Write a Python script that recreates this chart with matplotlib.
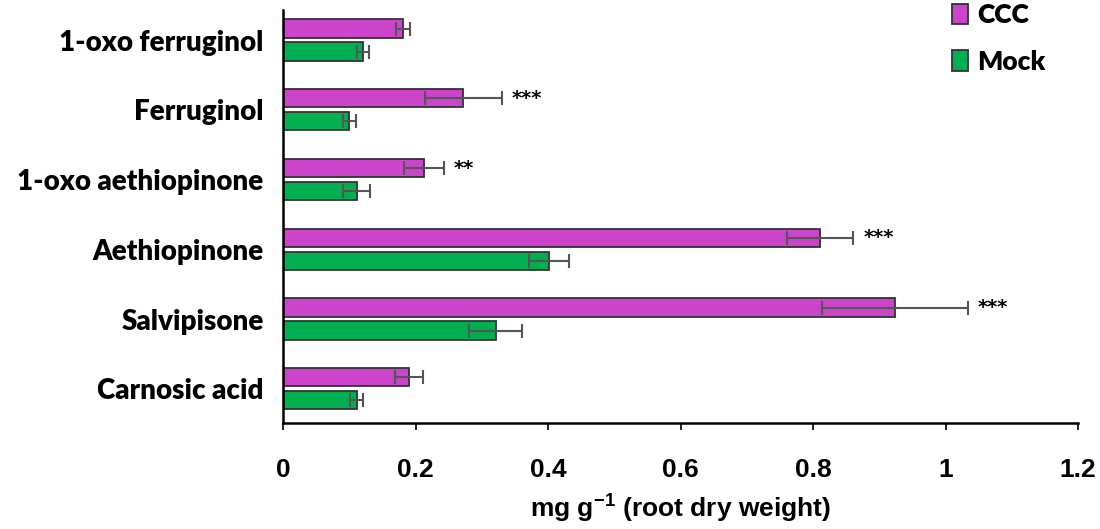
import matplotlib.pyplot as plt
import numpy as np

compounds = ["1-oxo ferruginol", "Ferruginol", "1-oxo aethiopinone",
             "Aethiopinone", "Salvipisone", "Carnosic acid"]
ccc = [0.181, 0.272, 0.213, 0.811, 0.924, 0.190]
ccc_err = [0.010, 0.058, 0.030, 0.050, 0.110, 0.021]
mock = [0.121, 0.100, 0.111, 0.402, 0.321, 0.111]
mock_err = [0.009, 0.010, 0.020, 0.030, 0.040, 0.010]
stars = ["", "***", "**", "***", "***", ""]
xticks = [0, 0.2, 0.4, 0.6, 0.8, 1, 1.2]

plt.rcParams["mathtext.fontset"] = "custom"
plt.rcParams["mathtext.bf"] = "Liberation Sans:bold"
plt.rcParams["mathtext.rm"] = "Liberation Sans"

fig = plt.figure(figsize=(11, 5.29), dpi=100)
ax = fig.add_axes([0.2573, 0.2004, 0.7227, 0.7806])

y = np.arange(len(compounds))
h = 0.26
off = 0.165

ax.barh(y - off, ccc, height=h, color="#CC44CC", edgecolor="#333333",
        linewidth=1.3, label="CCC")
ax.barh(y + off, mock, height=h, color="#00B050", edgecolor="#333333",
        linewidth=1.3, label="Mock")
ax.errorbar(ccc, y - off, xerr=ccc_err, fmt="none", ecolor="#555555",
            elinewidth=1.5, capsize=5, capthick=1.5)
ax.errorbar(mock, y + off, xerr=mock_err, fmt="none", ecolor="#555555",
            elinewidth=1.5, capsize=5, capthick=1.5)

for i, s in enumerate(stars):
    if s:
        ax.text(ccc[i] + ccc_err[i] + 0.015, y[i] - off, s, ha="left",
                va="center", fontsize=14, fontweight="bold")

ax.set_ylim(len(compounds) - 1 + 0.49, -0.43)
ax.set_xlim(0, 1.2)
ax.set_yticks(y)
ax.set_yticklabels(compounds, fontsize=20, fontweight="heavy",
                   family="Lato")
ax.tick_params(axis="y", length=0, pad=14)
ax.set_xticks(xticks)
ax.set_xticklabels([str(t) for t in xticks], fontsize=19, fontweight="bold",
                   family="Liberation Sans")
ax.tick_params(axis="x", length=5, width=1.2, pad=20)
ax.set_xlabel("mg g$^{\\mathbf{-1}}$ (root dry weight)", fontsize=19,
              fontweight="bold", labelpad=7, family="Liberation Sans")

for side in ["top", "right"]:
    ax.spines[side].set_visible(False)
ax.spines["left"].set_linewidth(1.8)
ax.spines["bottom"].set_linewidth(1.8)

ax.legend(loc="upper left", bbox_to_anchor=(0.812, 1.074), frameon=False,
          handlelength=0.6, handleheight=0.8, handletextpad=0.35,
          labelspacing=0.85, prop={"family": "Lato", "weight": "heavy",
                                   "size": 19})

fig.savefig("out.png", dpi=100)
